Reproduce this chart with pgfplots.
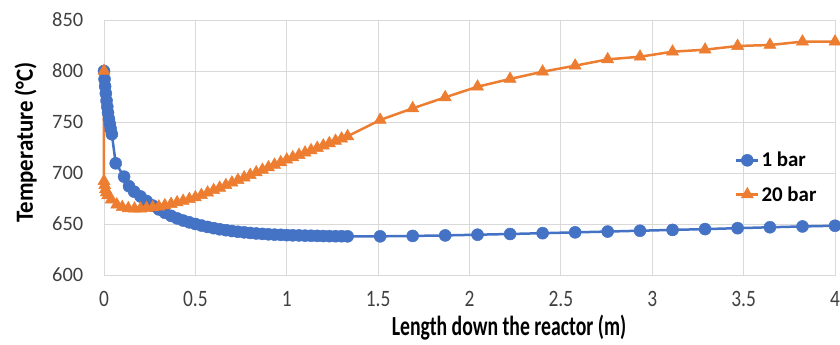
\documentclass[border=0pt]{standalone}
\usepackage{fontspec}
\setmainfont{Carlito}
\usepackage{graphicx}
\usepackage{pgfplots}
\pgfplotsset{compat=1.18}
\definecolor{cblue}{HTML}{4472C4}
\definecolor{corange}{HTML}{ED7D31}
\definecolor{cgrid}{HTML}{D9D9D9}
\definecolor{ctick}{HTML}{404040}
\newcommand\sx[1]{\scalebox{0.95}[1.15]{#1}}
\begin{document}
\begin{tikzpicture}
\begin{axis}[
 at={(0,0)}, anchor=south west,
 scale only axis, width=731bp, height=255bp,
 xmin=0, xmax=4, ymin=600, ymax=850,
 xtick={0,0.5,1,1.5,2,2.5,3,3.5,4},
 xticklabels={\sx{0},\sx{0.5},\sx{1},\sx{1.5},\sx{2},\sx{2.5},\sx{3},\sx{3.5},\sx{4}},
 ytick={600,650,700,750,800,850},
 yticklabels={600,650,700,750,800,850},
 grid=major, major grid style={cgrid, line width=0.8bp},
 axis line style={cgrid, line width=0.8bp},
 major tick length=0pt,
 tick label style={font=\fontsize{20.5}{23}\selectfont, text=ctick, inner sep=0pt},
 xticklabel style={anchor=center, yshift=-24bp},
 yticklabel style={anchor=east, xshift=-20.5bp},
 xlabel={\scalebox{1}[1.4]{Length down the reactor (m)}},
 ylabel={\scalebox{1.02}[1.1]{Temperature (°C)}},
 xlabel style={font=\bfseries\fontsize{19.8}{23}\selectfont, text=black, inner sep=0pt,
   at={(axis description cs:0.554,-0.208)}, anchor=center},
 ylabel style={font=\bfseries\fontsize{22.5}{25}\selectfont, text=black, inner sep=0pt,
   at={(axis description cs:-0.107,0.52)}, anchor=center},
 legend style={at={(rel axis cs:0.863,0.49)}, anchor=north west, draw=none, fill=none,
   font=\bfseries\fontsize{21}{24}\selectfont, row sep=14bp, inner sep=0pt},
 legend cell align=left,
 legend image code/.code={\draw[mark repeat=2,mark phase=2,#1] plot coordinates {(0bp,0bp) (11bp,0bp) (22bp,0bp)};},
 clip=false,
]
\addplot[color=cblue, line width=2.5bp, mark=*, mark size=6bp, mark options={fill=cblue, draw=cblue, line width=0.5bp}] coordinates {
(0,800)(0.003,792)(0.006,785)(0.01,778)(0.014,771)(0.018,765)(0.022,759)(0.027,753)(0.032,748)(0.037,743)(0.043,738)
(0.064,709.5)(0.11,696.4)(0.137,687)(0.165,681.7)(0.2,677)
(0.233,672.5)(0.267,668.1)(0.3,664.3)(0.333,661.0)(0.367,658.0)(0.4,655.5)(0.433,653.4)(0.467,651.6)(0.5,650.0)
(0.533,648.5)(0.567,647.1)(0.6,645.9)(0.633,644.8)(0.667,643.9)(0.7,643.1)(0.733,642.4)(0.767,641.8)(0.8,641.2)
(0.833,640.7)(0.867,640.3)(0.9,639.9)(0.933,639.6)(0.967,639.4)(1.0,639.1)(1.033,638.9)(1.067,638.8)(1.1,638.6)
(1.133,638.5)(1.167,638.35)(1.2,638.2)(1.233,638.1)(1.267,638.0)(1.3,638.0)(1.333,637.9)
(1.511,637.9)(1.689,638.3)(1.867,638.8)(2.044,639.5)(2.222,640.2)(2.4,641.0)(2.578,641.8)(2.756,642.6)
(2.933,643.4)(3.111,644.2)(3.289,645.0)(3.467,645.9)(3.644,646.8)(3.822,647.6)(4.0,648.3)
};
\addlegendentry{1 bar}
\addplot[color=corange, line width=2.5bp, mark=triangle*, mark size=7bp, mark options={fill=corange, draw=corange, line width=0.5bp}] coordinates {
(0,800)(0,692)(0.004,688)(0.008,684)(0.013,681)(0.02,678)(0.04,674)(0.07,669)(0.1,666.5)(0.133,665.3)(0.167,665)
(0.2,665)(0.233,665.5)(0.267,666.3)(0.3,667.0)(0.333,668.2)(0.367,669.6)(0.4,671.1)(0.433,672.6)(0.467,674.3)
(0.5,676)(0.533,678.3)(0.567,680.7)(0.6,683.1)(0.633,685.5)(0.667,688)(0.7,690.5)(0.733,693)(0.767,695.5)
(0.8,698)(0.833,700.5)(0.867,703)(0.9,705.5)(0.933,708)(0.967,710.5)(1.0,713)(1.033,715.3)(1.067,717.6)
(1.1,719.9)(1.133,722.2)(1.167,724.5)(1.2,726.8)(1.233,729.1)(1.267,731.4)(1.3,733.7)(1.333,736)
(1.511,752)(1.689,763.4)(1.867,774.2)(2.044,784.6)(2.222,792.2)(2.4,799.3)(2.578,805.2)(2.756,811.4)
(2.933,814)(3.111,818.9)(3.289,820.9)(3.467,824.5)(3.644,825.5)(3.822,828.8)(4.0,828.8)
};
\addlegendentry{20 bar}
\end{axis}
\pgfresetboundingbox
\path[use as bounding box] (-104bp,-70bp) rectangle (736bp,275bp);
\end{tikzpicture}
\end{document}
